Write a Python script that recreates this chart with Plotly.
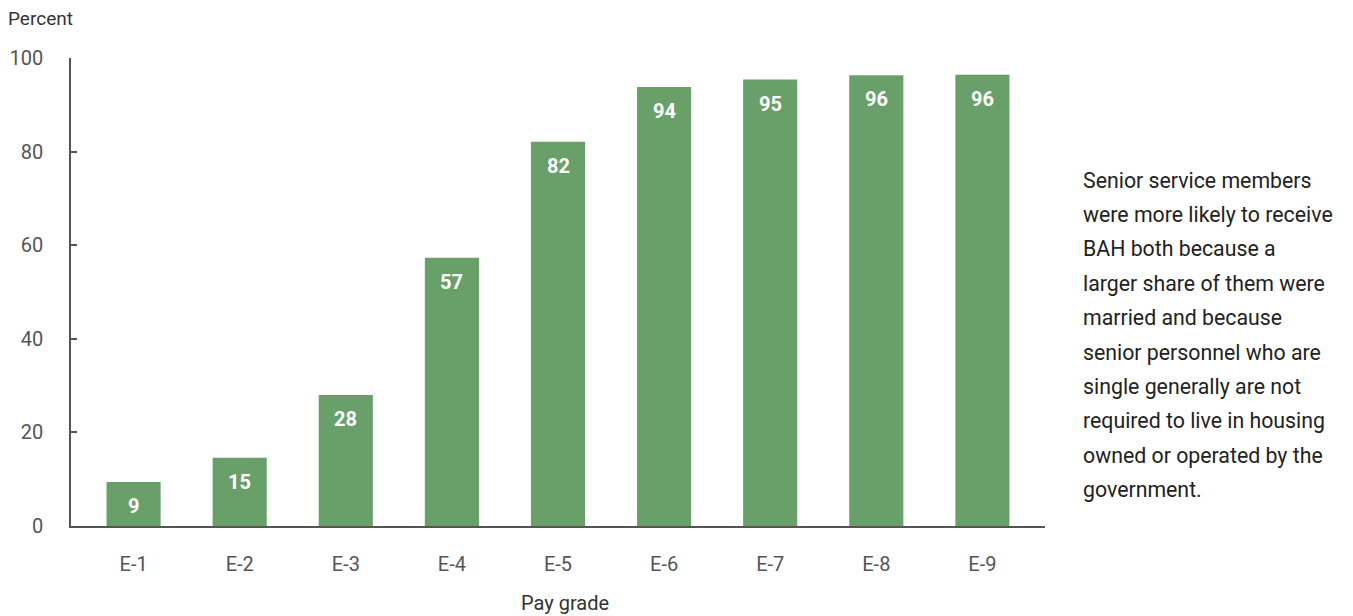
import plotly.graph_objects as go

categories = ["E-1", "E-2", "E-3", "E-4", "E-5", "E-6", "E-7", "E-8", "E-9"]
values = [9.4, 14.6, 28.0, 57.3, 82.1, 93.8, 95.4, 96.3, 96.4]
labels = ["9", "15", "28", "57", "82", "94", "95", "96", "96"]
y_ticks = [0, 20, 40, 60, 80, 100]
note_lines = [
    "Senior service members",
    "were more likely to receive",
    "BAH both because a",
    "larger share of them were",
    "married and because",
    "senior personnel who are",
    "single generally are not",
    "required to live in housing",
    "owned or operated by the",
    "government.",
]

FONT = "Roboto, 'Liberation Sans', sans-serif"
GREEN = "#69a069"
GRAY = "#555555"

fig = go.Figure()
fig.add_trace(go.Bar(
    x=categories, y=values, marker=dict(color=GREEN, line=dict(width=0)),
    width=0.51, hoverinfo="skip",
))

annotations = []
for c, v, t in zip(categories, values, labels):
    annotations.append(dict(
        x=c, y=v, xref="x", yref="y", text=f"<b>{t}</b>", showarrow=False,
        yanchor="middle", yshift=-24,
        font=dict(family=FONT, size=20, color="white"),
    ))

annotations.append(dict(
    x=0, y=1, xref="paper", yref="paper", text="Percent", showarrow=False,
    xanchor="left", yanchor="middle", xshift=-65, yshift=40,
    font=dict(family=FONT, size=19, color="#333333"),
))
annotations.append(dict(
    xref="paper", yref="paper", x=0.5, y=0, text="Pay grade", showarrow=False,
    xanchor="center", yanchor="middle", xshift=7, yshift=-77,
    font=dict(family=FONT, size=20, color="#333333"),
))

for i, line in enumerate(note_lines):
    annotations.append(dict(
        xref="paper", yref="paper", x=1, y=1, text=line, showarrow=False,
        xanchor="left", yanchor="middle", xshift=36, yshift=-(122 + i * 34.4),
        font=dict(family=FONT, size=21.3, color="#222222"),
    ))

# page body has an 8px margin; compensate so the plot lands where the reference has it
fig.update_layout(
    width=1345, height=608,
    margin=dict(l=63, r=308, t=50, b=90, autoexpand=False),
    plot_bgcolor="white", paper_bgcolor="white",
    showlegend=False,
    annotations=annotations,
    font=dict(family=FONT, size=20, color=GRAY),
    xaxis=dict(
        range=[-0.59, 8.59], showline=True, linecolor="#555555", linewidth=1.5,
        ticks="", showgrid=False, tickfont=dict(family=FONT, size=20, color=GRAY),
        ticklabelstandoff=19, automargin=False,
    ),
    yaxis=dict(
        range=[0, 100], tickvals=y_ticks, showline=True, linecolor="#555555",
        linewidth=1.5, ticks="inside", ticklen=6, tickcolor="#555555", tickwidth=1.5,
        showgrid=False, zeroline=False, tickfont=dict(family=FONT, size=20, color=GRAY),
        ticklabelstandoff=22, automargin=False,
    ),
)

fig.write_html("out.html")
